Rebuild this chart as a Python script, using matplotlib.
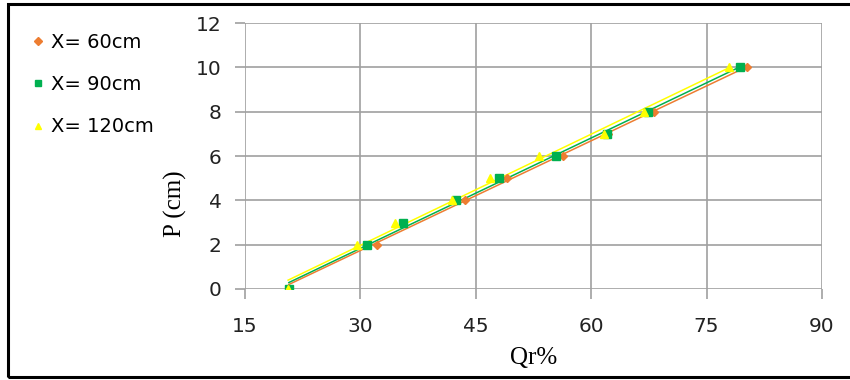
import matplotlib.pyplot as plt
from matplotlib.patches import Rectangle
import numpy as np

# Profundidad P (cm) y Qr% para cada distancia X
p_cm = [0, 2, 3, 4, 5, 6, 7, 8, 10]
qr_60 = [20.7, 32.2, 35.5, 43.6, 49.1, 56.3, 62.2, 68.2, 80.2]
qr_90 = [20.7, 30.9, 35.5, 42.4, 48.0, 55.4, 62.1, 67.4, 79.3]
qr_120 = [20.6, 29.6, 34.5, 41.9, 46.8, 53.2, 61.7, 66.9, 77.9]

labels = ['X= 60cm', 'X= 90cm', 'X= 120cm']
colors = ['#ED7D31', '#00B050', '#FFFF00']
markers = ['D', 's', '^']
msizes = [4.5, 5.5, 6.0]

x_ticks = [15, 30, 45, 60, 75, 90]
y_ticks = [0, 2, 4, 6, 8, 10, 12]

fig = plt.figure(figsize=(8.5, 3.8), dpi=100)
ax = fig.add_axes([245 / 850, 91 / 380, 577 / 850, 266 / 380])

handles = []
for qr, lab, c, m, ms in zip([qr_60, qr_90, qr_120], labels, colors, markers, msizes):
    h, = ax.plot(qr, p_cm, linestyle='none', marker=m, markersize=ms,
                 color=c, label=lab, zorder=3)
    handles.append(h)

# Líneas de tendencia lineales
for qr, c in zip([qr_60, qr_90, qr_120], colors):
    a, b = np.polyfit(qr, p_cm, 1)
    xs = np.array([min(qr), max(qr)])
    ax.plot(xs, a * xs + b, color=c, linewidth=1.1, zorder=2)

ax.set_xlim(15, 90)
ax.set_ylim(0, 12)
ax.set_xticks(x_ticks)
ax.set_yticks(y_ticks)
ax.grid(True, color='#a0a0a0', linewidth=1.2, zorder=0)
for s in ax.spines.values():
    s.set_visible(False)
ax.tick_params(axis='both', length=7, width=1.2, color='#a0a0a0',
               labelsize=14.5, colors='#a0a0a0', labelcolor='#222222')
ax.tick_params(axis='x', pad=13)
ax.tick_params(axis='y', pad=10)

ax.set_xlabel('Qr%', fontfamily='Liberation Serif', fontsize=18, labelpad=8)
ax.set_ylabel('P (cm)', fontfamily='Liberation Serif', fontsize=18)
# la etiqueta del eje y va algo más abajo, debajo de la leyenda
ax.yaxis.set_label_coords(-0.1, 0.32)

fig.legend(handles=handles, loc='upper left', bbox_to_anchor=(23 / 850, 1 - 25 / 380),
           frameon=False, fontsize=14, labelspacing=1.2, handlelength=0.7,
           handletextpad=0.35, markerscale=0.8, borderaxespad=0)

# Marco negro alrededor del gráfico
fig.patches.append(Rectangle((8 / 850, 3 / 380), 1.0, 373 / 380, transform=fig.transFigure,
                             fill=False, edgecolor='black', linewidth=2.2))

fig.savefig('out.png', dpi=100)
